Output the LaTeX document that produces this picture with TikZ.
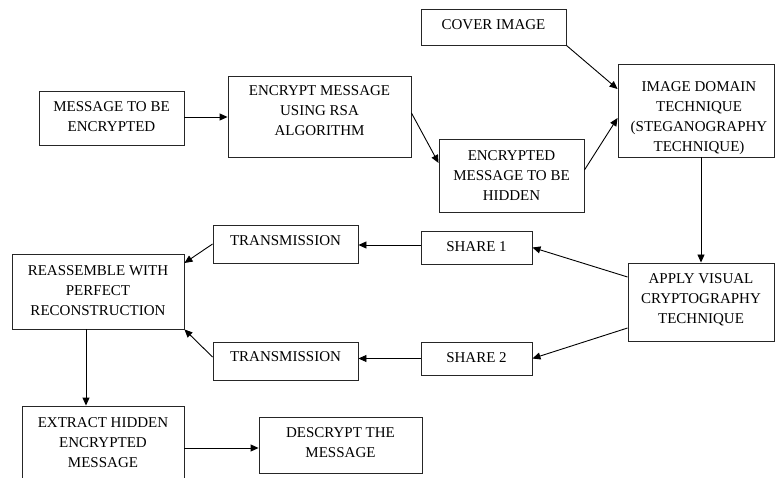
\documentclass[tikz,border=0pt]{standalone}
\usepackage{fontspec}
\setmainfont{Liberation Serif}
\usetikzlibrary{arrows.meta,calc}
\begin{document}
\begin{tikzpicture}[x=1pt,y=-1pt,
  box/.style={draw=black!85,line width=0.9pt,inner sep=0pt,fill=white},
  txt/.style={align=center,inner sep=0pt,font=\fontsize{15}{20}\selectfont},
  conn/.style={draw=black,line width=0.9pt,-{Triangle[length=8pt,width=7pt]}},
  plain/.style={draw=black,line width=0.9pt}]
\useasboundingbox (0,0) rectangle (776,478);
\clip (0,0) rectangle (776,478);
\fill[white] (0,0) rectangle (776,478);

\node[box,minimum width=145,minimum height=54,label={[txt,yshift=1.3pt]center:MESSAGE TO BE\\ENCRYPTED}] (msg) at (111.5,118) {};
\node[box,minimum width=183,minimum height=81,label={[txt,yshift=5.5pt]center:ENCRYPT MESSAGE\\USING RSA\\ALGORITHM}] (rsa) at (319.5,116.5) {};
\node[box,minimum width=145,minimum height=36,label={[txt,yshift=2pt]center:COVER IMAGE}] (cover) at (493.5,27) {};
\node[box,minimum width=156,minimum height=93,label={[txt,yshift=-7.5pt,xshift=3pt]center:IMAGE DOMAIN\\TECHNIQUE\\(STEGANOGRAPHY\\TECHNIQUE)}] (img) at (696,110.5) {};
\node[box,minimum width=145,minimum height=73,label={[txt]center:ENCRYPTED\\MESSAGE TO BE\\HIDDEN}] (hid) at (511.5,175.5) {};
\node[box,minimum width=146,minimum height=78,label={[txt,yshift=2pt]center:APPLY VISUAL\\CRYPTOGRAPHY\\TECHNIQUE}] (apply) at (701,302) {};
\node[box,minimum width=111,minimum height=33,label={[txt,yshift=1pt]center:SHARE 1}] (share1) at (476.5,247.5) {};
\node[box,minimum width=111,minimum height=33,label={[txt,yshift=1pt]center:SHARE 2}] (share2) at (476.5,358.5) {};
\node[box,minimum width=145,minimum height=38,label={[txt,yshift=3.3pt]center:TRANSMISSION}] (t1) at (285.5,244) {};
\node[box,minimum width=145,minimum height=38,label={[txt,yshift=4.3pt]center:TRANSMISSION}] (t2) at (285.5,361) {};
\node[box,minimum width=172,minimum height=75,label={[txt,yshift=1pt]center:REASSEMBLE WITH\\PERFECT\\RECONSTRUCTION}] (reas) at (98,291.5) {};
\node[box,minimum width=162,minimum height=74,label={[txt]center:EXTRACT HIDDEN\\ENCRYPTED\\MESSAGE}] (extract) at (103,443) {};
\node[box,minimum width=163,minimum height=56,label={[txt,yshift=2pt]center:DESCRYPT THE\\MESSAGE}] (desc) at (340.5,445) {};

\draw[conn] ([yshift=1pt]msg.east) -- ([yshift=1pt]msg.east -| rsa.west);
\draw[conn] ([yshift=3.5pt]rsa.east) -- ([yshift=12.5pt]hid.west);
\draw[conn] ([yshift=5.5pt]hid.east) -- ([yshift=-7.5pt]img.west);
\draw[conn] (cover.south east) -- ([yshift=21.5pt]img.west);
\draw[conn] (img.south -| apply.north) -- (apply.north);
\draw[conn] ([yshift=25pt]apply.west) -- (share1.east);
\draw[conn] ([yshift=-26pt]apply.west) -- (share2.east);
\draw[conn] ([yshift=2.5pt]share1.west) -- ([yshift=2.5pt]share1.west -| t1.east);
\draw[conn] (share2.west) -- (share2.west -| t2.east);
\draw[conn] (t1.west) -- ([yshift=28.5pt]reas.east);
\draw[conn] ([yshift=4pt]t2.west) -- (reas.south east);
\draw[conn] ([xshift=-12pt]reas.south) -- ([xshift=-12pt]reas.south |- extract.north);
\draw[conn] ([yshift=-3pt]desc.west -| extract.east) -- ([yshift=-3pt]desc.west);
\end{tikzpicture}
\end{document}
